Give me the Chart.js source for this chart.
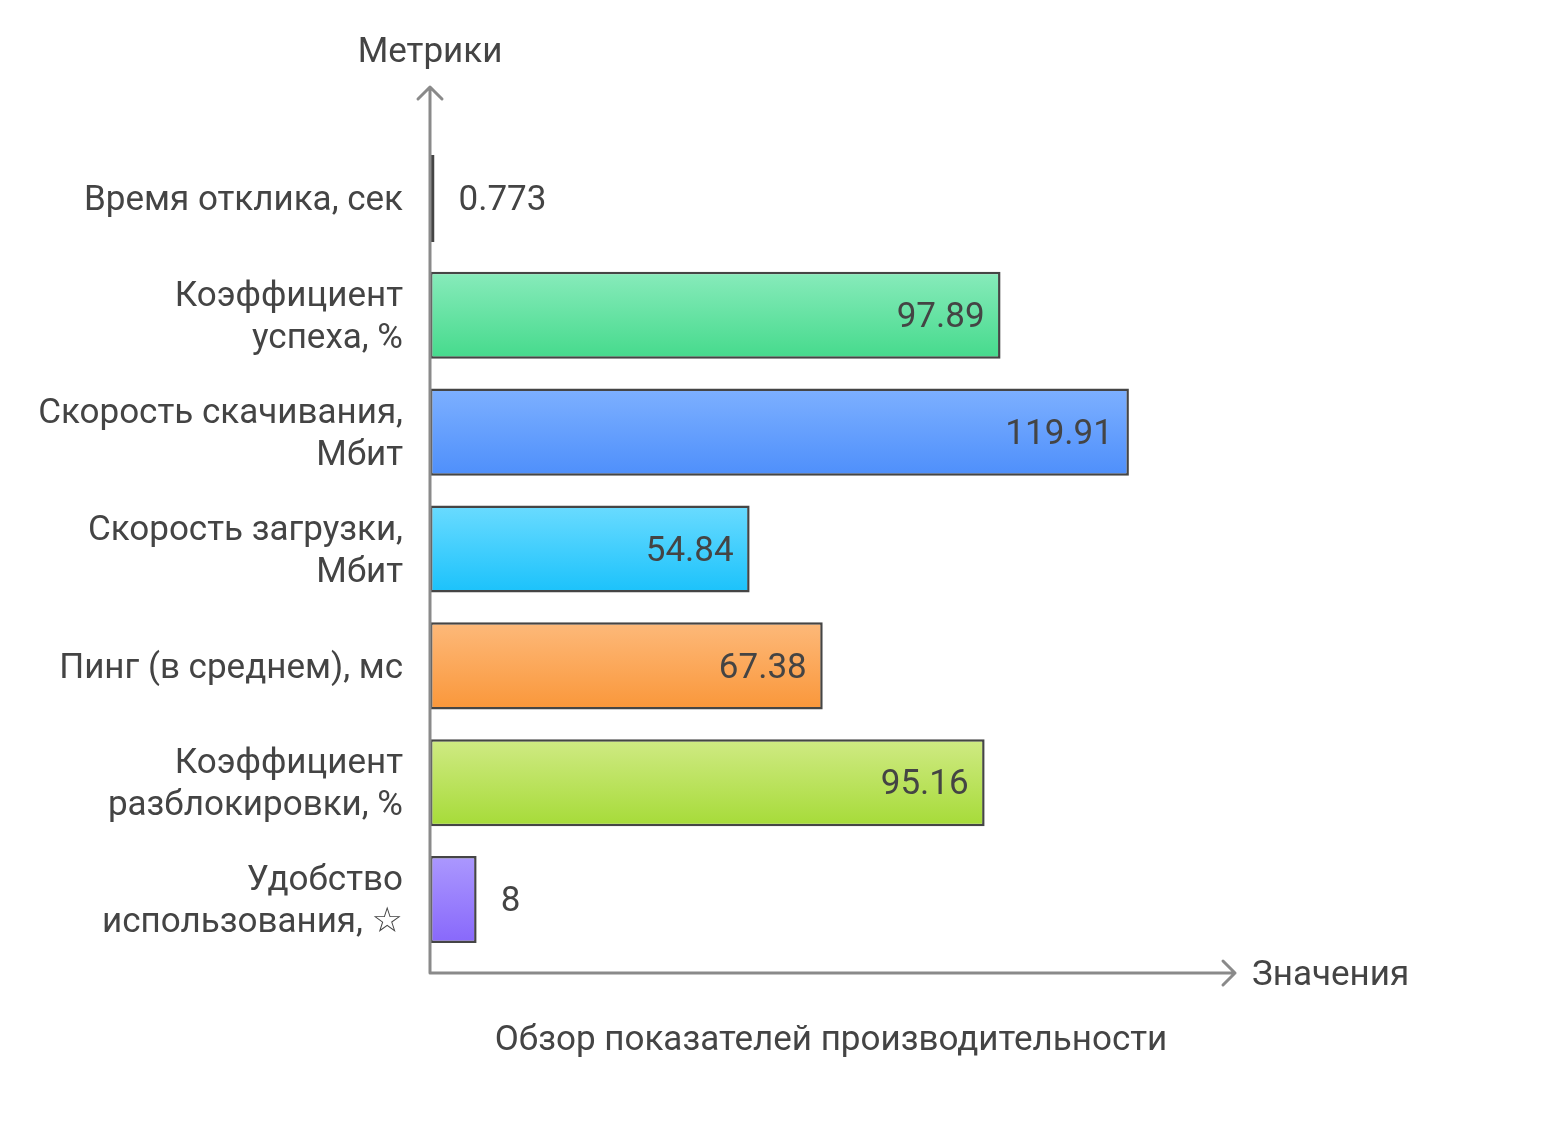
<!DOCTYPE html>
<html>
<head>
<meta charset="utf-8">
<script src="https://cdn.jsdelivr.net/npm/chart.js@4"></script>
<style>
  html, body { margin: 0; padding: 0; background: #fff; }
  #wrap { width: 1552px; height: 1122px; }
</style>
</head>
<body>
<div id="wrap"><canvas id="metricsChart"></canvas></div>
<script>
const categories = [
    'Время отклика, сек',
    ['Коэффициент', 'успеха, %'],
    ['Скорость скачивания,', 'Мбит'],
    ['Скорость загрузки,', 'Мбит'],
    'Пинг (в среднем), мс',
    ['Коэффициент', 'разблокировки, %'],
    ['Удобство', 'использования, ☆']
];
const values = [0.773, 97.89, 119.91, 54.84, 67.38, 95.16, 8];
const valueLabels = ['0.773', '97.89', '119.91', '54.84', '67.38', '95.16', '8'];
const gradTop = ['#f7e27a', '#88ebbb', '#7db0ff', '#6adbff', '#fdb97a', '#d0ea84', '#ab98fe'];
const gradBottom = ['#e8c12a', '#45da8c', '#4e8ffb', '#1bc2fb', '#fa973a', '#a6db38', '#8868fb'];

const xTitle = 'Значения';
const yTitle = 'Метрики';
const caption = 'Обзор показателей производительности';

const TEXT = '#444444';
const AXIS = '#8a8a8a';
const FONT = 'Roboto, "DejaVu Sans", sans-serif';
const BAR_PCT = 0.745;

// axes with arrows, value labels and titles
const decorPlugin = {
    id: 'decor',
    afterDatasetsDraw(chart) {
        const { ctx, chartArea } = chart;
        const meta = chart.getDatasetMeta(0);
        const x0 = chartArea.left;
        const yAxisY = 973;
        const topY = 87;
        const rightX = 1235;

        ctx.save();
        ctx.strokeStyle = AXIS;
        ctx.lineWidth = 3;
        ctx.lineCap = 'round';
        ctx.lineJoin = 'round';
        ctx.beginPath();
        ctx.moveTo(x0, yAxisY);
        ctx.lineTo(x0, topY);
        ctx.moveTo(x0 - 12, topY + 12);
        ctx.lineTo(x0, topY);
        ctx.lineTo(x0 + 12, topY + 12);
        ctx.moveTo(x0, yAxisY);
        ctx.lineTo(rightX, yAxisY);
        ctx.moveTo(rightX - 12, yAxisY - 12);
        ctx.lineTo(rightX, yAxisY);
        ctx.lineTo(rightX - 12, yAxisY + 12);
        ctx.stroke();

        // value labels
        ctx.fillStyle = TEXT;
        ctx.font = '35px ' + FONT;
        ctx.textBaseline = 'middle';
        meta.data.forEach((bar, i) => {
            const w = bar.x - bar.base;
            if (w > 120) {
                ctx.textAlign = 'right';
                ctx.fillText(valueLabels[i], bar.x - 16, bar.y + 3);
            } else {
                ctx.textAlign = 'left';
                ctx.fillText(valueLabels[i], bar.x + 24, bar.y + 3);
            }
        });

        ctx.textAlign = 'center';
        ctx.fillText(yTitle, x0, 53);
        ctx.textAlign = 'left';
        ctx.fillText(xTitle, 1252, yAxisY + 3);
        ctx.textAlign = 'center';
        ctx.fillText(caption, (chartArea.left + chartArea.right) / 2, 1041);
        ctx.restore();
    }
};

function barGradient(context) {
    const chart = context.chart;
    const i = context.dataIndex;
    if (!chart.chartArea) return gradBottom[i];
    const yScale = chart.scales.y;
    const half = (yScale.height / categories.length) * BAR_PCT / 2;
    const cy = yScale.getPixelForValue(i);
    const g = chart.ctx.createLinearGradient(0, cy - half, 0, cy + half);
    g.addColorStop(0, gradTop[i]);
    g.addColorStop(1, gradBottom[i]);
    return g;
}

new Chart(document.getElementById('metricsChart'), {
    type: 'bar',
    data: {
        labels: categories,
        datasets: [{
            data: values,
            backgroundColor: barGradient,
            borderColor: '#454545',
            borderWidth: 2.5,
            borderSkipped: false,
            categoryPercentage: 1,
            barPercentage: BAR_PCT
        }]
    },
    options: {
        indexAxis: 'y',
        responsive: true,
        maintainAspectRatio: false,
        animation: false,
        layout: { padding: { top: 140, bottom: 164, left: 0, right: 320 } },
        plugins: { legend: { display: false }, tooltip: { enabled: false } },
        scales: {
            x: { display: false, min: 0, max: 137.6 },
            y: {
                afterFit: scale => { scale.width = 430; },
                grid: { display: false, drawTicks: false },
                border: { display: false },
                ticks: {
                    color: TEXT,
                    padding: 27,
                    labelOffset: 3,
                    font: { family: FONT, size: 35, lineHeight: 1.2 }
                }
            }
        }
    },
    plugins: [decorPlugin]
});
</script>
</body>
</html>
